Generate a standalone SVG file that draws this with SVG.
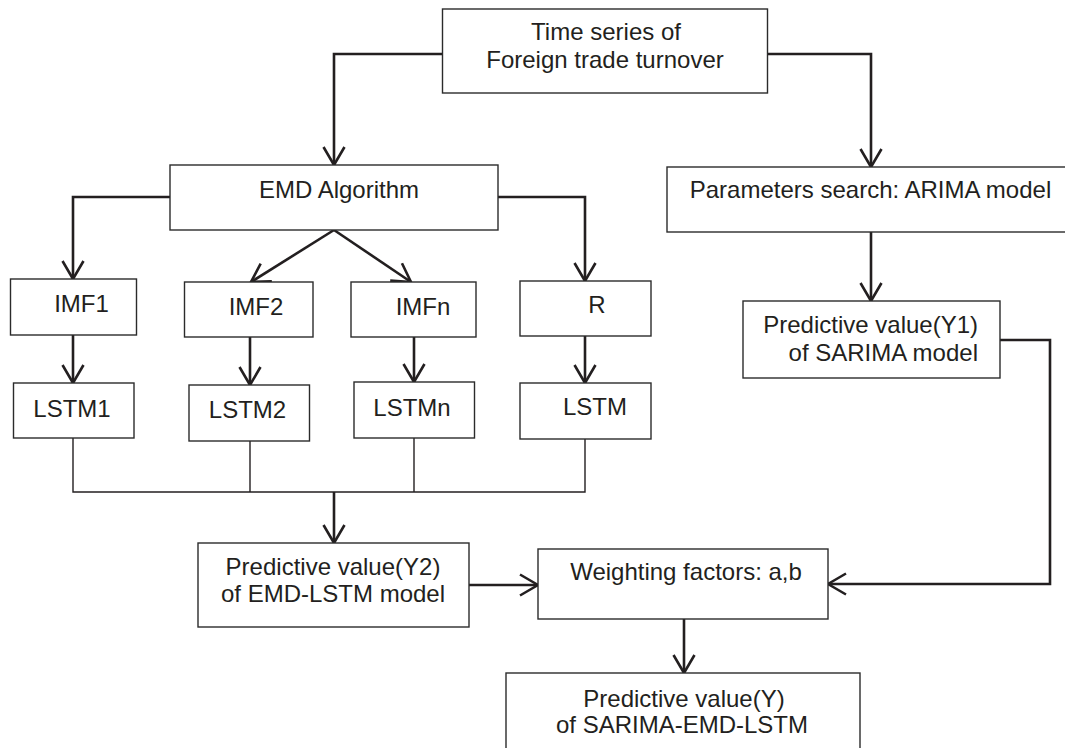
<svg xmlns="http://www.w3.org/2000/svg" width="1065" height="748" viewBox="0 0 1065 748">
<style>
.box{fill:#fff;stroke:#2b2b2b;stroke-width:1.4}
.t{font-family:"Liberation Sans",Arial,sans-serif;font-size:24px;fill:#231f20}
.c{text-anchor:middle}
.e{text-anchor:end}
.k{fill:none;stroke:#231f20;stroke-width:2.6}
.thin{fill:none;stroke:#231f20;stroke-width:1.4}
</style>
<defs>
<marker id="ah" markerUnits="userSpaceOnUse" viewBox="-21 -12 23 24" refX="0" refY="0" markerWidth="23" markerHeight="24" orient="auto">
<path d="M-18,-10.5 L0,0 L-18,10.5" fill="none" stroke="#231f20" stroke-width="2.6"/>
</marker>
</defs>
<rect width="1065" height="748" fill="#fff"/>
<g id="connectors">
<path class="k" d="M442.5,54 H334 V165" marker-end="url(#ah)"/>
<path class="k" d="M767.5,54 H871 V167" marker-end="url(#ah)"/>
<path class="k" d="M170,197 H73 V279" marker-end="url(#ah)"/>
<path class="k" d="M498,197 H585 V281" marker-end="url(#ah)"/>
<path class="k" d="M334,230 L251,282" marker-end="url(#ah)"/>
<path class="k" d="M334,230 L411,282" marker-end="url(#ah)"/>
<path class="k" d="M73,335 V383" marker-end="url(#ah)"/>
<path class="k" d="M250,337 V385" marker-end="url(#ah)"/>
<path class="k" d="M414,337 V382" marker-end="url(#ah)"/>
<path class="k" d="M585,336 V383" marker-end="url(#ah)"/>
<path class="k" d="M871,232 V301" marker-end="url(#ah)"/>
<path class="thin" d="M73,438 V492 H585 V439"/>
<path class="thin" d="M250,441 V492"/>
<path class="thin" d="M414,438 V492"/>
<path class="k" d="M334,492 V543" marker-end="url(#ah)"/>
<path class="k" d="M469,585 H538" marker-end="url(#ah)"/>
<path class="k" d="M1000,340 H1050 V584 H828" marker-end="url(#ah)"/>
<path class="k" d="M684,619 V673" marker-end="url(#ah)"/>
</g>
<g id="n-top"><rect class="box" x="442.5" y="9" width="325" height="84"/>
<text class="t c" x="606" y="40">Time series of</text>
<text class="t c" x="605" y="68">Foreign trade turnover</text></g>
<g id="n-emd"><rect class="box" x="170" y="165" width="328" height="65"/>
<text class="t c" x="339" y="198">EMD Algorithm</text></g>
<g id="n-param"><rect class="box" x="667" y="167" width="410" height="65"/>
<text class="t c" x="870.5" y="198">Parameters search: ARIMA model</text></g>
<g id="n-imf1"><rect class="box" x="10.5" y="279" width="126" height="56"/>
<text class="t c" x="81.5" y="312">IMF1</text></g>
<g id="n-imf2"><rect class="box" x="184.5" y="282" width="128.5" height="55"/>
<text class="t c" x="256" y="315">IMF2</text></g>
<g id="n-imfn"><rect class="box" x="351" y="282" width="125" height="55"/>
<text class="t c" x="423" y="315">IMFn</text></g>
<g id="n-r"><rect class="box" x="520" y="281" width="131" height="55"/>
<text class="t c" x="597" y="313">R</text></g>
<g id="n-lstm1"><rect class="box" x="13.5" y="383" width="120.5" height="55"/>
<text class="t c" x="72" y="417">LSTM1</text></g>
<g id="n-lstm2"><rect class="box" x="189" y="385" width="120.5" height="56"/>
<text class="t c" x="247.5" y="418">LSTM2</text></g>
<g id="n-lstmn"><rect class="box" x="354" y="382" width="120.5" height="56"/>
<text class="t c" x="412" y="416">LSTMn</text></g>
<g id="n-lstm"><rect class="box" x="520" y="383" width="131" height="56"/>
<text class="t c" x="595" y="415">LSTM</text></g>
<g id="n-y1"><rect class="box" x="743" y="301" width="257" height="77"/>
<text class="t e" x="978" y="333">Predictive value(Y1)</text>
<text class="t e" x="978" y="361">of SARIMA model</text></g>
<g id="n-y2"><rect class="box" x="198" y="543" width="271" height="84"/>
<text class="t c" x="333" y="575">Predictive value(Y2)</text>
<text class="t c" x="333" y="602">of EMD-LSTM model</text></g>
<g id="n-weight"><rect class="box" x="538" y="549" width="290" height="70"/>
<text class="t c" x="686" y="580">Weighting factors: a,b</text></g>
<g id="n-y"><rect class="box" x="506" y="673" width="354" height="90"/>
<text class="t c" x="684" y="707">Predictive value(Y)</text>
<text class="t c" x="682" y="733">of SARIMA-EMD-LSTM</text></g>
</svg>
